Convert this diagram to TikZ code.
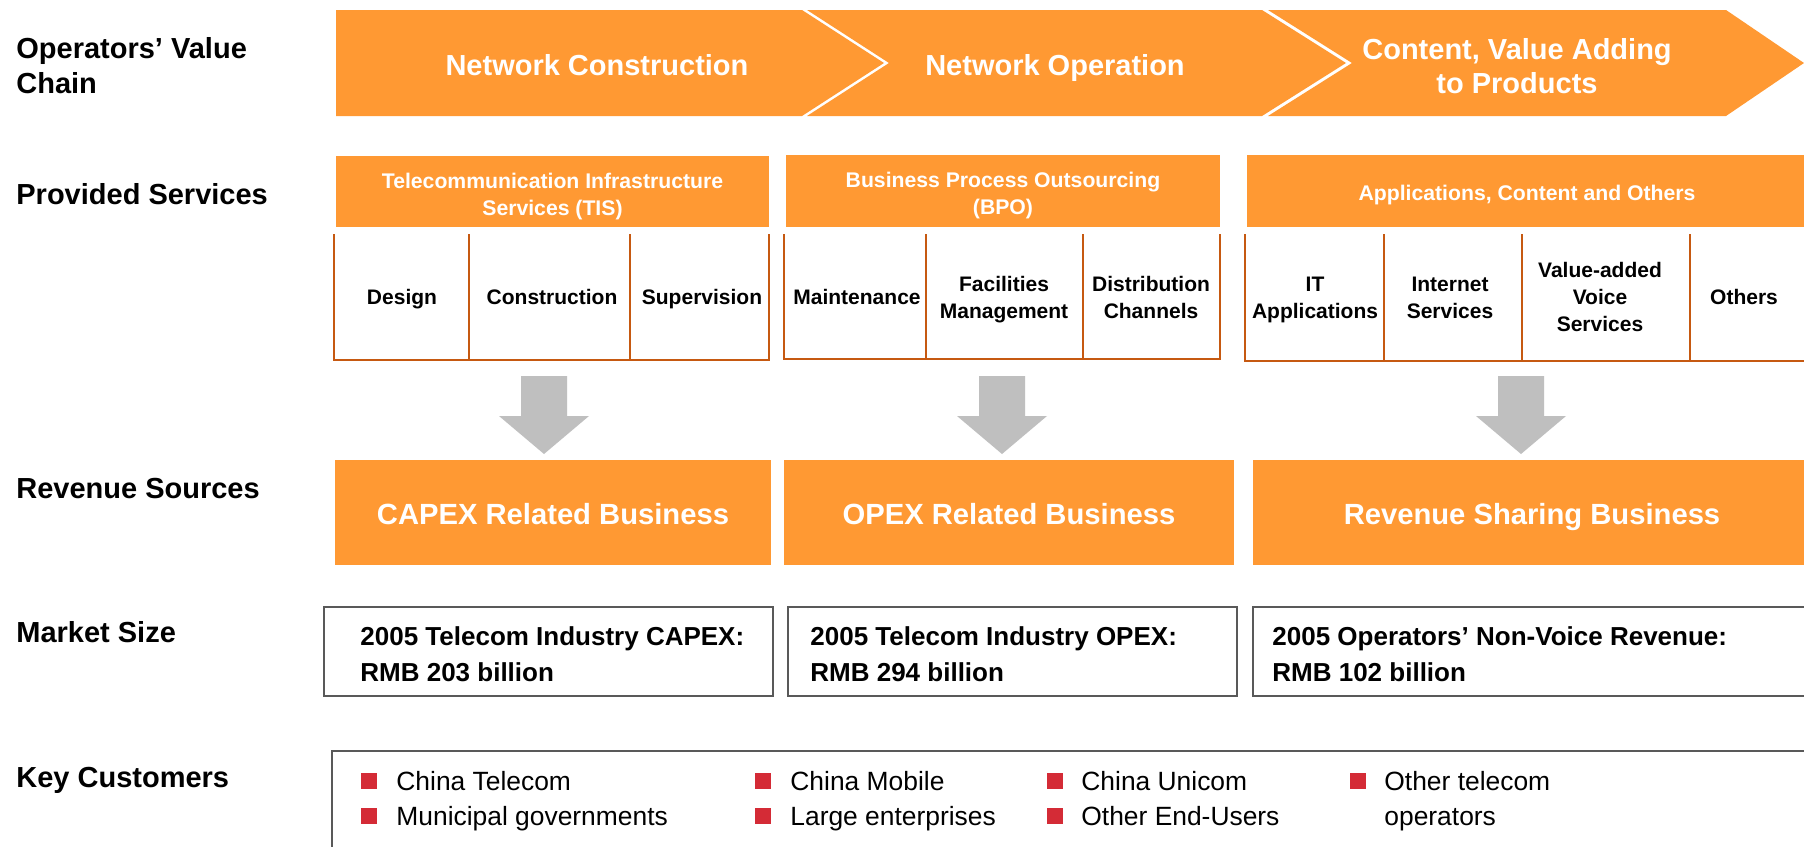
\documentclass[tikz,border=0pt]{standalone}
\usepackage{fontspec}
\setmainfont{Liberation Sans}
\definecolor{orng}{HTML}{FF9933}
\definecolor{cellline}{HTML}{C65911}
\definecolor{arrowgray}{HTML}{BFBFBF}
\definecolor{boxline}{HTML}{595959}
\definecolor{bulletred}{HTML}{D42B36}
\newcommand\fsz[2]{\fontsize{#1}{#2}\selectfont}
\tikzset{
  st/.style={execute at begin node=\strut, execute at end node=\strut},
  lbl/.style={st,anchor=west,align=left,inner sep=0pt,yshift=-1.8pt,font=\fsz{14.5}{17.5}\bfseries,text=black},
  chev/.style={st,align=center,inner sep=0pt,yshift=-1.8pt,font=\fsz{14.5}{17}\bfseries,text=white},
  hdr/.style={st,align=center,inner sep=0pt,yshift=-1pt,font=\fsz{10.6}{13.5}\bfseries,text=white},
  cell/.style={st,align=center,inner sep=0pt,yshift=-1pt,font=\fsz{10.5}{13.5}\bfseries,text=black},
  rev/.style={st,align=center,inner sep=0pt,yshift=-1.8pt,font=\fsz{14.6}{17}\bfseries,text=white},
  mkt/.style={anchor=west,align=left,inner sep=0pt,font=\fsz{13}{18}\bfseries,text=black},
  cust/.style={st,anchor=west,align=left,inner sep=0pt,yshift=-0.5pt,font=\fsz{13.2}{17.5},text=black},
  cline/.style={draw=cellline,line width=1pt},
  mbox/.style={draw=boxline,line width=0.6pt},
  bul/.style={fill=bulletred},
  pics/downarrow/.style={code={
    \fill[arrowgray] (-23,376) -- (23,376) -- (23,416) -- (45,416) -- (0,454) -- (-45,416) -- (-23,416) -- cycle;}}
}
\begin{document}
\begin{tikzpicture}[x=0.5pt,y=-0.5pt]
\useasboundingbox (0,0) rectangle (1804,846);
\clip (0,0) rectangle (1804,846);
\fill[white] (0,0) rectangle (1804,846);

% left labels
\node[lbl] (l1) at (16,67.5) {Operators’ Value\\Chain};
\node[lbl] (l2) at (16,194) {Provided Services};
\node[lbl] (l3) at (16,488) {Revenue Sources};
\node[lbl] (l4) at (16,632) {Market Size};
\node[lbl] (l5) at (16,777) {Key Customers};

% chevrons
\fill[orng] (336,10) -- (802,10) -- (884,63) -- (802,116) -- (336,116) -- cycle;
\fill[orng] (807,10) -- (1262,10) -- (1346,63) -- (1262,116) -- (807,116) -- (889,63) -- cycle;
\fill[orng] (1268,10) -- (1726,10) -- (1804,63) -- (1726,116) -- (1268,116) -- (1352,63) -- cycle;
\node[chev] (nc) at (597,65) {Network Construction};
\node[chev] (no) at (1055,65) {Network Operation};
\node[chev] (cv) at (1517,67) {Content, Value Adding\\to Products};

% service headers
\fill[orng] (336,156) rectangle (769,227);
\fill[orng] (786,155) rectangle (1220,227);
\fill[orng] (1247,155) rectangle (1804,227);
\node[hdr] (tis) at (552.5,196.5) {Telecommunication Infrastructure\\Services (TIS)};
\node[hdr] (bpo) at (1003,195.5) {Business Process Outsourcing\\(BPO)};
\node[hdr] (app) at (1527,193.5) {Applications, Content and Others};

% service cells
\draw[cline] (334,234) -- (334,360) -- (769,360) -- (769,234);
\draw[cline] (469,234) -- (469,360);
\draw[cline] (630,234) -- (630,360);
\draw[cline] (784,234) -- (784,359) -- (1220,359) -- (1220,234);
\draw[cline] (926,234) -- (926,359);
\draw[cline] (1083,234) -- (1083,359);
\draw[cline] (1245,234) -- (1245,361) -- (1810,361);
\draw[cline] (1384,234) -- (1384,361);
\draw[cline] (1522,234) -- (1522,361);
\draw[cline] (1690,234) -- (1690,361);

\node[cell] (c1) at (402,297) {Design};
\node[cell] (c2) at (552,297) {Construction};
\node[cell] (c3) at (702,297) {Supervision};
\node[cell] (c4) at (857,297) {Maintenance};
\node[cell] (c5) at (1004,299) {Facilities\\Management};
\node[cell] (c6) at (1151,299.5) {Distribution\\Channels};
\node[cell] (c7) at (1315,299.5) {IT\\Applications};
\node[cell] (c8) at (1450,299.5) {Internet\\Services};
\node[cell] (c9) at (1600,298.5) {Value-added\\Voice\\Services};
\node[cell] (c10) at (1744,297) {Others};

% grey block arrows
\pic at (544,0) {downarrow};
\pic at (1002,0) {downarrow};
\pic at (1521,0) {downarrow};

% revenue boxes
\fill[orng] (335,460) rectangle (771,565);
\fill[orng] (784,460) rectangle (1234,565);
\fill[orng] (1253,460) rectangle (1804,565);
\node[rev] (r1) at (553,514) {CAPEX Related Business};
\node[rev] (r2) at (1009,514) {OPEX Related Business};
\node[rev] (r3) at (1532,514) {Revenue Sharing Business};

% market size
\draw[mbox] (324,607) rectangle (773,696);
\draw[mbox] (788,607) rectangle (1237,696);
\draw[mbox] (1253,607) rectangle (1812,696);
\node[mkt] (m1) at (360,654) {2005 Telecom Industry CAPEX:\\RMB 203 billion};
\node[mkt] (m2) at (810,654) {2005 Telecom Industry OPEX:\\RMB 294 billion};
\node[mkt] (m3) at (1272,654) {2005 Operators’ Non-Voice Revenue:\\RMB 102 billion};

% key customers
\draw[mbox] (332,751) rectangle (1812,856);
\foreach \x/\y in {369/781,369/816,763/781,763/816,1055/781,1055/816,1358/781}
  \fill[bul] (\x-8,\y-8) rectangle (\x+8,\y+8);
\node[cust] (k1) at (396,782) {China Telecom};
\node[cust] (k2) at (396,817) {Municipal governments};
\node[cust] (k3) at (790,782) {China Mobile};
\node[cust] (k4) at (790,817) {Large enterprises};
\node[cust] (k5) at (1081,782) {China Unicom};
\node[cust] (k6) at (1081,817) {Other End-Users};
\node[cust] (k7) at (1384,802.5) {Other telecom\\operators};
\end{tikzpicture}
\end{document}
